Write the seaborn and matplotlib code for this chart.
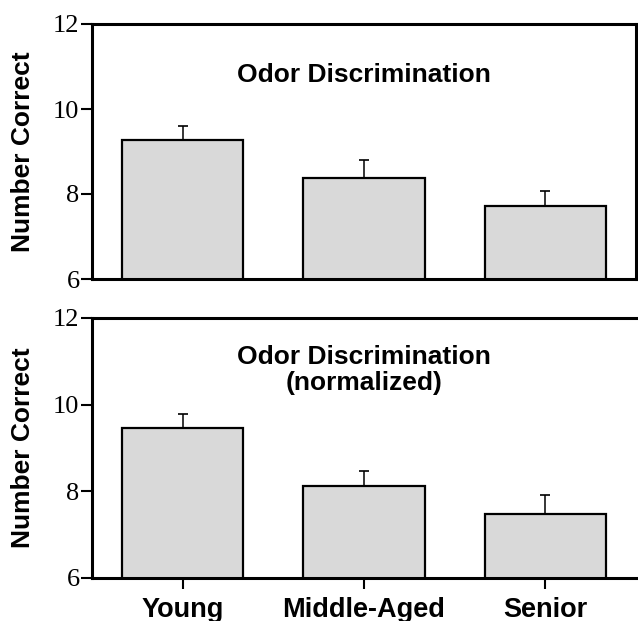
import numpy as np
import pandas as pd
import matplotlib
matplotlib.use("Agg")
import matplotlib.pyplot as plt
import seaborn as sns

# --- data ---
groups = ["Young", "Middle-Aged", "Senior"]
raw_means = [9.27, 8.38, 7.72]
raw_err = [0.33, 0.42, 0.35]
norm_means = [9.46, 8.12, 7.48]
norm_err = [0.33, 0.35, 0.44]
titles = ["Odor Discrimination", "Odor Discrimination\n(normalized)"]
yticks = [6, 8, 10, 12]

sns.set_theme(style="white")
plt.rcParams["font.family"] = ["Liberation Sans", "DejaVu Sans"]
plt.rcParams["text.color"] = "black"
plt.rcParams["axes.labelcolor"] = "black"
plt.rcParams["xtick.color"] = "black"
plt.rcParams["ytick.color"] = "black"

BAR_COLOR = "#d9d9d9"
SPINE_LW = 2.2

fig = plt.figure(figsize=(6.38, 6.21), dpi=100)
ax_top = fig.add_axes([92 / 638, 1 - 279 / 621, 544 / 638, 255 / 621])
ax_bot = fig.add_axes([92 / 638, 1 - 578 / 621, 544 / 638, 260 / 621])


def draw_panel(ax, means, err, title, title_y, show_x):
    df = pd.DataFrame({"group": groups, "value": means})
    sns.barplot(data=df, x="group", y="value", color=BAR_COLOR, saturation=1,
                edgecolor="black", linewidth=1.6, width=0.67, errorbar=None, ax=ax)
    # one-sided error bars (upward caps only)
    ax.errorbar(np.arange(len(groups)), means, yerr=[np.zeros(len(err)), err],
                fmt="none", ecolor="black", elinewidth=1.1, capsize=3.6, capthick=1.2)
    ax.set_ylim(6, 12)
    ax.set_xlim(-0.5, 2.5)
    ax.set_yticks(yticks)
    ax.set_yticklabels([str(t) for t in yticks], family="Liberation Serif", fontsize=19)
    ax.set_ylabel("Number Correct", fontsize=19, fontweight="bold")
    ax.set_xlabel("")
    ax.text(0.5, title_y, title, transform=ax.transAxes, ha="center", va="center",
            fontsize=19, fontweight="bold", linespacing=1.1)
    for s in ax.spines.values():
        s.set_linewidth(SPINE_LW)
        s.set_color("black")
    ax.tick_params(axis="y", direction="out", length=8, width=1.5, pad=1, left=True)
    if show_x:
        ax.set_xticks(range(len(groups)))
        ax.set_xticklabels(groups, fontsize=19.5, fontweight="bold")
        ax.tick_params(axis="x", direction="out", length=8, width=1.5, pad=6, bottom=True)
        ax.spines["right"].set_visible(False)
    else:
        ax.set_xticks([])


draw_panel(ax_top, raw_means, raw_err, titles[0], 0.80, False)
draw_panel(ax_bot, norm_means, norm_err, titles[1], 0.80, True)

ax_top.yaxis.set_label_coords(-0.104, 0.5)
ax_bot.yaxis.set_label_coords(-0.104, 0.5)

fig.savefig("out.png", dpi=100)
